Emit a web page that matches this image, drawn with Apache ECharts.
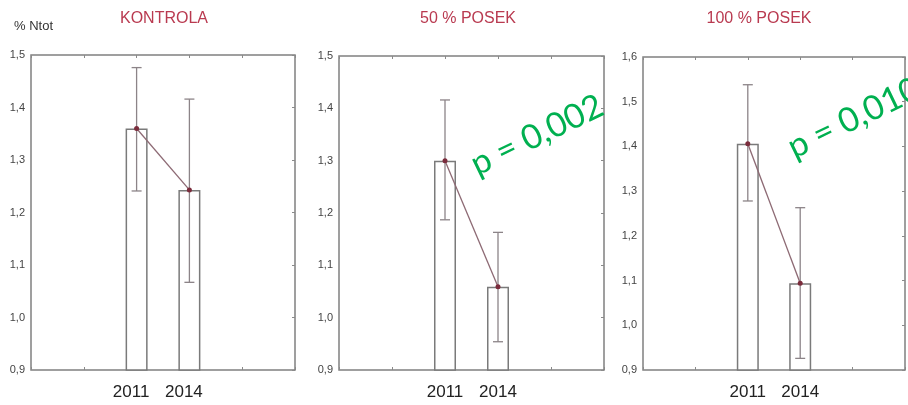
<!DOCTYPE html>
<html>
<head>
<meta charset="utf-8">
<script src="https://cdn.jsdelivr.net/npm/echarts@6/dist/echarts.min.js"></script>
<style>
html,body{margin:0;padding:0;background:#fff;}
#chart{width:908px;height:405px;}
</style>
</head>
<body>
<div id="chart"></div>
<script>
// ---- data ----
const categories = ['', '', '2011', '2014', '', ''];
const years = ['2011', '2014'];
const panelTitles = ['KONTROLA', '50 % POSEK', '100 % POSEK'];
const pLabels = ['', 'p = 0,002', 'p = 0,010'];
const yAxisTitle = '% Ntot';

const meanKontrola = [1.360, 1.243];
const lowKontrola  = [1.241, 1.067];
const highKontrola = [1.476, 1.416];

const mean50 = [1.300, 1.059];
const low50  = [1.187, 0.954];
const high50 = [1.416, 1.163];

const mean100 = [1.406, 1.094];
const low100  = [1.278, 0.926];
const high100 = [1.538, 1.263];

const yMins = [0.9, 0.9, 0.9];
const yMaxs = [1.5, 1.5, 1.6];

// ---- layout ----
const grids = [
  {left: 31, top: 55, width: 264, height: 315},
  {left: 339, top: 56, width: 265, height: 314},
  {left: 643, top: 57, width: 264, height: 313}
];
const panels = [
  {mean: meanKontrola, low: lowKontrola, high: highKontrola},
  {mean: mean50, low: low50, high: high50},
  {mean: mean100, low: low100, high: high100}
];

const chart = echarts.init(document.getElementById('chart'), null, {renderer: 'canvas'});

const xAxes = [], yAxes = [], series = [];
const tickStyle = {show: true, inside: true, length: 3, lineStyle: {color: '#8a8a8a', width: 1}};

panels.forEach((p, gi) => {
  xAxes.push({
    gridIndex: gi, type: 'category', data: categories, boundaryGap: false,
    axisLine: {show: false}, axisTick: tickStyle,
    axisLabel: {
      show: true, interval: 0, color: '#222', fontSize: 17,
      fontFamily: 'Liberation Sans, Arial, sans-serif', margin: 14,
      padding: gi === 0 ? [0, 11, 0, 0] : 0
    },
    splitLine: {show: false}
  });
  xAxes.push({
    gridIndex: gi, type: 'category', data: categories, boundaryGap: false, position: 'top',
    axisLine: {show: false}, axisTick: tickStyle, axisLabel: {show: false}, splitLine: {show: false}
  });
  yAxes.push({
    gridIndex: gi, type: 'value', min: yMins[gi], max: yMaxs[gi], interval: 0.1,
    axisLine: {show: false}, axisTick: {show: false},
    axisLabel: {
      color: '#444', fontSize: 11, margin: 6,
      fontFamily: 'Liberation Sans, Arial, sans-serif',
      formatter: v => v.toFixed(1).replace('.', ',')
    },
    splitLine: {show: false}
  });
  yAxes.push({
    gridIndex: gi, type: 'value', min: yMins[gi], max: yMaxs[gi], interval: 0.1, position: 'right',
    axisLine: {show: false}, axisTick: tickStyle, axisLabel: {show: false}, splitLine: {show: false}
  });

  const xi = gi * 2, yi = gi * 2;
  const full = arr => categories.map(c => {
    const k = years.indexOf(c);
    return k >= 0 ? arr[k] : '-';
  });

  series.push({
    type: 'bar', xAxisIndex: xi, yAxisIndex: yi, barWidth: 22,
    data: full(p.mean),
    itemStyle: {color: '#ffffff', borderColor: '#7a7a7a', borderWidth: 1.5},
    silent: true, z: 2
  });
  series.push({
    type: 'custom', xAxisIndex: xi, yAxisIndex: yi, z: 3, silent: true,
    data: years.map((y, k) => [categories.indexOf(y), p.low[k], p.high[k]]),
    renderItem: (params, api) => {
      const x = api.value(0);
      const lo = api.coord([x, api.value(1)]);
      const hi = api.coord([x, api.value(2)]);
      const hw = 5;
      const st = {stroke: '#8c8488', lineWidth: 1.3};
      return {
        type: 'group',
        children: [
          {type: 'line', shape: {x1: lo[0], y1: lo[1], x2: hi[0], y2: hi[1]}, style: st},
          {type: 'line', shape: {x1: lo[0] - hw, y1: lo[1], x2: lo[0] + hw, y2: lo[1]}, style: st},
          {type: 'line', shape: {x1: hi[0] - hw, y1: hi[1], x2: hi[0] + hw, y2: hi[1]}, style: st}
        ]
      };
    }
  });
  series.push({
    type: 'line', xAxisIndex: xi, yAxisIndex: yi, z: 4, silent: true,
    data: full(p.mean),
    symbol: 'circle', symbolSize: 5,
    lineStyle: {color: '#8d6a74', width: 1.3},
    itemStyle: {color: '#7b2c3c'}
  });
});

const graphics = [];
const titleX = [164, 468, 759];
panelTitles.forEach((t, i) => {
  graphics.push({
    type: 'text', x: titleX[i], y: 19,
    style: {
      text: t, align: 'center', verticalAlign: 'middle',
      textAlign: 'center', textVerticalAlign: 'middle',
      font: '16px "Liberation Sans", Arial, sans-serif', fill: '#b93a50'
    }
  });
});
graphics.push({
  type: 'text', x: 14, y: 26,
  style: {
    text: yAxisTitle, align: 'left', verticalAlign: 'middle',
    textAlign: 'left', textVerticalAlign: 'middle',
    font: '13px "Liberation Sans", Arial, sans-serif', fill: '#333'
  }
});
const pPos = [null, [537, 135], [854, 118]];
pLabels.forEach((t, i) => {
  if (!t) return;
  graphics.push({
    type: 'text', x: pPos[i][0], y: pPos[i][1], rotation: 0.45, z: 10,
    style: {
      text: t, align: 'center', verticalAlign: 'middle',
      textAlign: 'center', textVerticalAlign: 'middle',
      font: '34px Lato, "Open Sans", sans-serif', fill: '#00b050'
    }
  });
});

chart.setOption({
  animation: false,
  backgroundColor: '#ffffff',
  grid: grids.map(g => Object.assign({show: true, borderColor: '#808080', borderWidth: 1.5, backgroundColor: 'transparent'}, g)),
  xAxis: xAxes,
  yAxis: yAxes,
  series: series,
  graphic: graphics
});
</script>
</body>
</html>
